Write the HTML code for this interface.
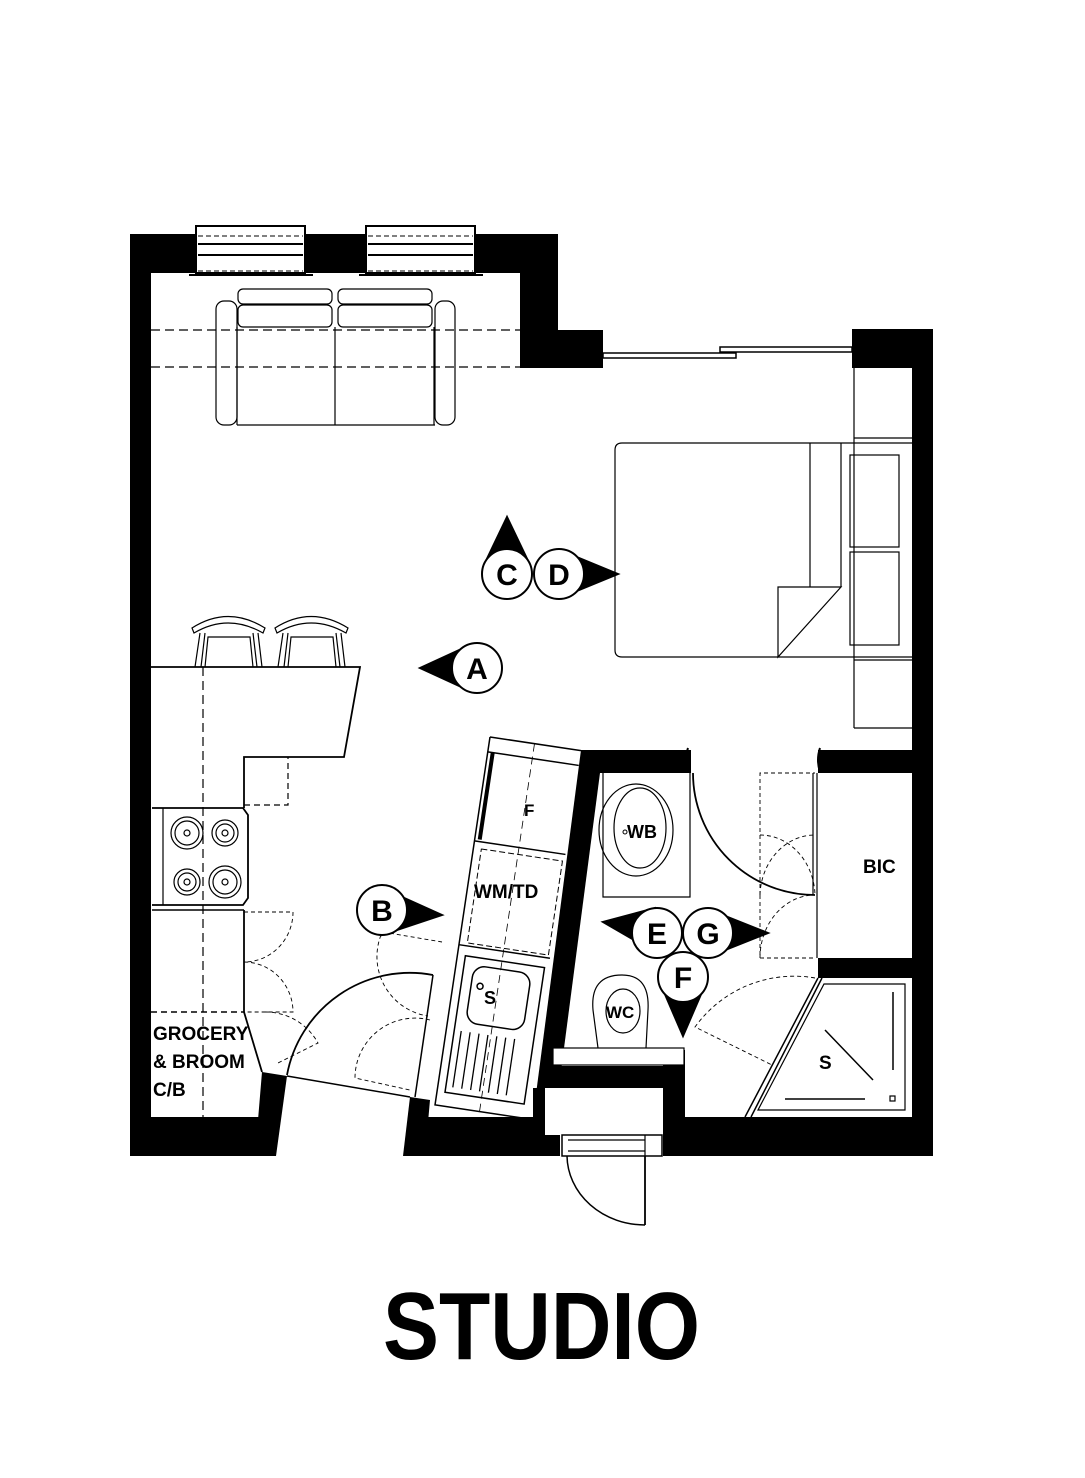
<!DOCTYPE html>
<html><head><meta charset="utf-8"><style>
html,body{margin:0;padding:0;background:#fff;}
svg{display:block;}
text{font-family:"Liberation Sans",sans-serif;fill:#000;}
</style></head><body>
<svg width="1085" height="1478" viewBox="0 0 1085 1478" xmlns="http://www.w3.org/2000/svg">
<rect width="1085" height="1478" fill="#fff"/>
<g fill="#000">
<rect x="130" y="234" width="21" height="922"/>
<rect x="130" y="234" width="428" height="39"/>
<rect x="520" y="234" width="38" height="134"/>
<rect x="520" y="330" width="83" height="38"/>
<rect x="852" y="329" width="81" height="39"/>
<rect x="912" y="329" width="21" height="827"/>
<rect x="130" y="1117" width="130" height="39"/>
<polygon points="262,1072 287,1076 276,1156 255,1156"/>
<polygon points="410,1097 430,1100 425,1156 403,1156"/>
<rect x="410" y="1117" width="150" height="39"/>
<rect x="663" y="1117" width="270" height="39"/>
<polygon points="581,750 603,750 555,1117 533,1117"/>
<rect x="581" y="750" width="110" height="23"/>
<rect x="818" y="750" width="94" height="23"/>
<rect x="818" y="958" width="94" height="20"/>
<rect x="545" y="1066" width="140" height="22"/>
<rect x="663" y="1050" width="22" height="90"/>
<rect x="533" y="1088" width="12" height="48"/>
</g>
<rect x="545" y="1088" width="118" height="47" fill="#fff"/>
<g stroke="#000" fill="#fff">
<rect x="196" y="226" width="109" height="47" stroke-width="2"/>
<rect x="366" y="226" width="109" height="47" stroke-width="2"/>
<line x1="198" y1="244" x2="303" y2="244" stroke-width="2"/>
<line x1="198" y1="255" x2="303" y2="255" stroke-width="2"/>
<line x1="368" y1="244" x2="473" y2="244" stroke-width="2"/>
<line x1="368" y1="255" x2="473" y2="255" stroke-width="2"/>
<line x1="198" y1="236" x2="303" y2="236" stroke-dasharray="5,3"/>
<line x1="198" y1="271" x2="303" y2="271" stroke-dasharray="5,3"/>
<line x1="368" y1="236" x2="473" y2="236" stroke-dasharray="5,3"/>
<line x1="368" y1="271" x2="473" y2="271" stroke-dasharray="5,3"/>
<line x1="189" y1="275" x2="313" y2="275" stroke-width="2"/>
<line x1="359" y1="275" x2="483" y2="275" stroke-width="2"/>
</g>
<g stroke="#000" stroke-width="1.5" fill="#fff">
<rect x="603" y="353" width="133" height="5"/>
<rect x="720" y="347" width="132" height="5"/>
</g>
<g fill="none" stroke="#000" stroke-width="1.2">
<line x1="151" y1="330" x2="520" y2="330" stroke-dasharray="9,5"/>
<line x1="151" y1="367" x2="520" y2="367" stroke-dasharray="9,5"/>
<rect x="216" y="301" width="21" height="124" rx="8"/>
<rect x="435" y="301" width="20" height="124" rx="8"/>
<rect x="238" y="289" width="94" height="15" rx="5"/>
<rect x="338" y="289" width="94" height="15" rx="5"/>
<rect x="238" y="305" width="94" height="22" rx="5"/>
<rect x="338" y="305" width="94" height="22" rx="5"/>
<line x1="237" y1="327" x2="237" y2="425"/>
<line x1="335" y1="327" x2="335" y2="425"/>
<line x1="434" y1="327" x2="434" y2="425"/>
<line x1="237" y1="425" x2="435" y2="425"/>
<path d="M622,443 H854 M854,657 H622 Q615,657 615,650 V450 Q615,443 622,443"/>
<line x1="810" y1="443" x2="810" y2="587"/>
<line x1="841" y1="443" x2="841" y2="587"/>
<polygon points="778,587 841,587 778,657"/>
<line x1="854" y1="368" x2="854" y2="728"/>
<line x1="854" y1="438" x2="912" y2="438"/>
<line x1="854" y1="443" x2="912" y2="443"/>
<line x1="854" y1="657" x2="912" y2="657"/>
<line x1="854" y1="660" x2="912" y2="660"/>
<line x1="854" y1="728" x2="912" y2="728"/>
<rect x="850" y="455" width="49" height="92"/>
<rect x="850" y="552" width="49" height="93"/>
<path d="M151,667 H360 L344,757 H244 V808" stroke-width="1.8"/>
<line x1="244" y1="910" x2="244" y2="1012" stroke-width="1.8"/>
<line x1="203" y1="667" x2="203" y2="1117" stroke-dasharray="9,5"/>
<path d="M244,805 H288 V757" stroke-dasharray="6,4"/>
<line x1="151" y1="1012" x2="244" y2="1012" stroke-dasharray="6,4" stroke-width="1.5"/>
<path d="M244,1012 L262,1072" stroke-width="1.8"/>
<path d="M192,628 Q228,605 265,628 L263,633 Q228,613 194,633 Z"/>
<path d="M195,667 L200,633 M201,667 L205,633 M257,667 L253,633 M262,667 L258,633 M205,667 L208,637 H250 L253,667"/>
<path d="M275,628 Q311,605 348,628 L346,633 Q311,613 277,633 Z"/>
<path d="M278,667 L283,633 M284,667 L288,633 M340,667 L336,633 M345,667 L341,633 M288,667 L291,637 H333 L336,667"/>
<path d="M152,808 H243 L248,815 V898 L243,905 H152" stroke-width="1.8"/>
<line x1="163" y1="808" x2="163" y2="905"/>
<line x1="152" y1="910" x2="244" y2="910" stroke-width="1.5"/>
<circle cx="187" cy="833" r="16"/><circle cx="187" cy="833" r="12"/><circle cx="187" cy="833" r="3"/>
<circle cx="225" cy="833" r="13"/><circle cx="225" cy="833" r="9"/><circle cx="225" cy="833" r="3"/>
<circle cx="187" cy="882" r="13"/><circle cx="187" cy="882" r="9"/><circle cx="187" cy="882" r="3"/>
<circle cx="225" cy="882" r="16"/><circle cx="225" cy="882" r="12"/><circle cx="225" cy="882" r="3"/>
<g stroke-dasharray="4,3" stroke-width="0.9">
<path d="M244,912 H293 A49,50 0 0 1 244,962"/>
<path d="M244,962 A49,50 0 0 1 293,1012 H244"/>
<path d="M265,1012 A60,60 0 0 1 318,1043 L278,1063"/>
<path d="M381,935 A60,60 0 0 0 428,1016"/>
<path d="M430,1020 A60,60 0 0 0 355,1078 L410,1090"/>
<path d="M760,895 V773 H815"/>
<path d="M760,835 A55,62 0 0 1 815,895"/>
<path d="M760,895 A55,62 0 0 1 815,835" />
<path d="M760,958 H815"/>
<path d="M760,895 V958"/>
<path d="M760,958 A55,63 0 0 1 815,895"/>
<path d="M815,978 A122,122 0 0 0 695,1027 L772,1065"/>
<path d="M383,932 L442,942"/>
</g>
<path d="M693,773 A122,122 0 0 0 815,895" stroke-width="1.8"/>
<line x1="813" y1="773" x2="813" y2="895"/>
<line x1="817" y1="773" x2="817" y2="958"/>
<path d="M688,748 q-4,12 0,24 M820,748 q-4,12 0,24" stroke-width="2"/>
<path d="M287,1075 A125,125 0 0 1 433,975" stroke-width="1.8"/>
<line x1="433" y1="975" x2="415" y2="1097" stroke-width="1.5"/>
<line x1="287" y1="1076" x2="410" y2="1097" stroke-width="1.5"/>
<rect x="562" y="1135" width="100" height="21" fill="#fff" stroke-width="1.5"/>
<line x1="568" y1="1140" x2="645" y2="1140"/>
<line x1="568" y1="1151" x2="645" y2="1151"/>
<line x1="645" y1="1135" x2="645" y2="1156"/>
<line x1="645" y1="1156" x2="645" y2="1225" stroke-width="1.8"/>
<path d="M567,1156 A78,70 0 0 0 645,1225" stroke-width="1.5"/>
<path d="M603,773 V897 H690 V773" />
<ellipse cx="636" cy="830" rx="37" ry="46"/>
<ellipse cx="640" cy="828" rx="26" ry="40"/>
<path d="M598,1048 L593,1010 Q590,975 622,975 Q650,975 648,1010 L646,1048"/>
<ellipse cx="623" cy="1011" rx="17" ry="22"/>
<rect x="553" y="1048" width="131" height="17" fill="#fff"/>
<polygon points="824,984 905,984 905,1110 758,1110"/>
<line x1="818" y1="978" x2="745" y2="1117" stroke-width="1.5"/>
<line x1="822" y1="978" x2="751" y2="1117" stroke-width="1.5"/>
<line x1="825" y1="1030" x2="873" y2="1080" stroke-width="1.5"/>
<line x1="893" y1="992" x2="893" y2="1070" stroke-width="1.5"/>
<line x1="785" y1="1099" x2="865" y2="1099" stroke-width="1.5"/>
<rect x="890" y="1096" width="5" height="5"/>
</g>
<g transform="translate(490,737) rotate(8.5)" fill="none" stroke="#000" stroke-width="1.5">
<path d="M0,0 H92 M0,0 V372 H92"/>
<line x1="0" y1="15" x2="92" y2="15"/>
<line x1="5" y1="15" x2="5" y2="103" stroke-width="4"/>
<line x1="0" y1="105" x2="92" y2="105"/>
<line x1="0" y1="210" x2="92" y2="210"/>
<rect x="8" y="112" width="82" height="95" stroke-dasharray="6,3" stroke-width="1"/>
<line x1="45" y1="0" x2="45" y2="372" stroke-dasharray="8,5" stroke-width="0.8"/>
<rect x="8" y="220" width="80" height="138"/>
<rect x="18" y="228" width="58" height="58" rx="12"/>
<circle cx="27" cy="248" r="3"/>
<g stroke-width="1.3"><line x1="15" y1="295" x2="15" y2="352"/><line x1="24" y1="295" x2="24" y2="352"/><line x1="33" y1="295" x2="33" y2="352"/><line x1="42" y1="295" x2="42" y2="352"/><line x1="51" y1="295" x2="51" y2="352"/><line x1="60" y1="295" x2="60" y2="352"/><line x1="69" y1="295" x2="69" y2="352"/></g>
</g>
<g font-size="19" font-weight="bold">
<text x="153" y="1040">GROCERY</text>
<text x="153" y="1068">&amp; BROOM</text>
<text x="153" y="1096">C/B</text>
<text x="474" y="898">WM/TD</text>
<text x="524" y="816" font-size="17">F</text>
<text x="484" y="1004" font-size="18">S</text>
<text x="863" y="873">BIC</text>
<text x="819" y="1069">S</text>
<text x="627" y="838" font-size="18">WB</text>
<text x="606" y="1018" font-size="17">WC</text>
</g>
<circle cx="625" cy="832" r="2" fill="none" stroke="#000"/>
<g stroke="#000" stroke-width="2">
<polygon points="420,668 470,645 470,691" fill="#000"/>
<circle cx="477" cy="668" r="25" fill="#fff"/>
<polygon points="442,915 382,888 382,935" fill="#000"/>
<circle cx="382" cy="910" r="25" fill="#fff"/>
<polygon points="507,517 484,565 530,565" fill="#000"/>
<polygon points="618,574 562,551 562,597" fill="#000"/>
<circle cx="507" cy="574" r="25" fill="#fff"/>
<circle cx="559" cy="574" r="25" fill="#fff"/>
<polygon points="603,922 655,908 655,952" fill="#000"/>
<polygon points="768,933 710,910 710,956" fill="#000"/>
<polygon points="683,1036 661,985 705,985" fill="#000"/>
<circle cx="657" cy="933" r="25" fill="#fff"/>
<circle cx="708" cy="933" r="25" fill="#fff"/>
<circle cx="683" cy="977" r="25" fill="#fff"/>
</g>
<g font-size="30" text-anchor="middle" font-weight="bold">
<text x="477" y="679">A</text>
<text x="382" y="921">B</text>
<text x="507" y="585">C</text>
<text x="559" y="585">D</text>
<text x="657" y="944">E</text>
<text x="708" y="944">G</text>
<text x="683" y="988">F</text>
</g>
<text x="383" y="1359" font-size="96" font-weight="bold" textLength="317" lengthAdjust="spacingAndGlyphs">STUDIO</text>
</svg>
</body></html>
